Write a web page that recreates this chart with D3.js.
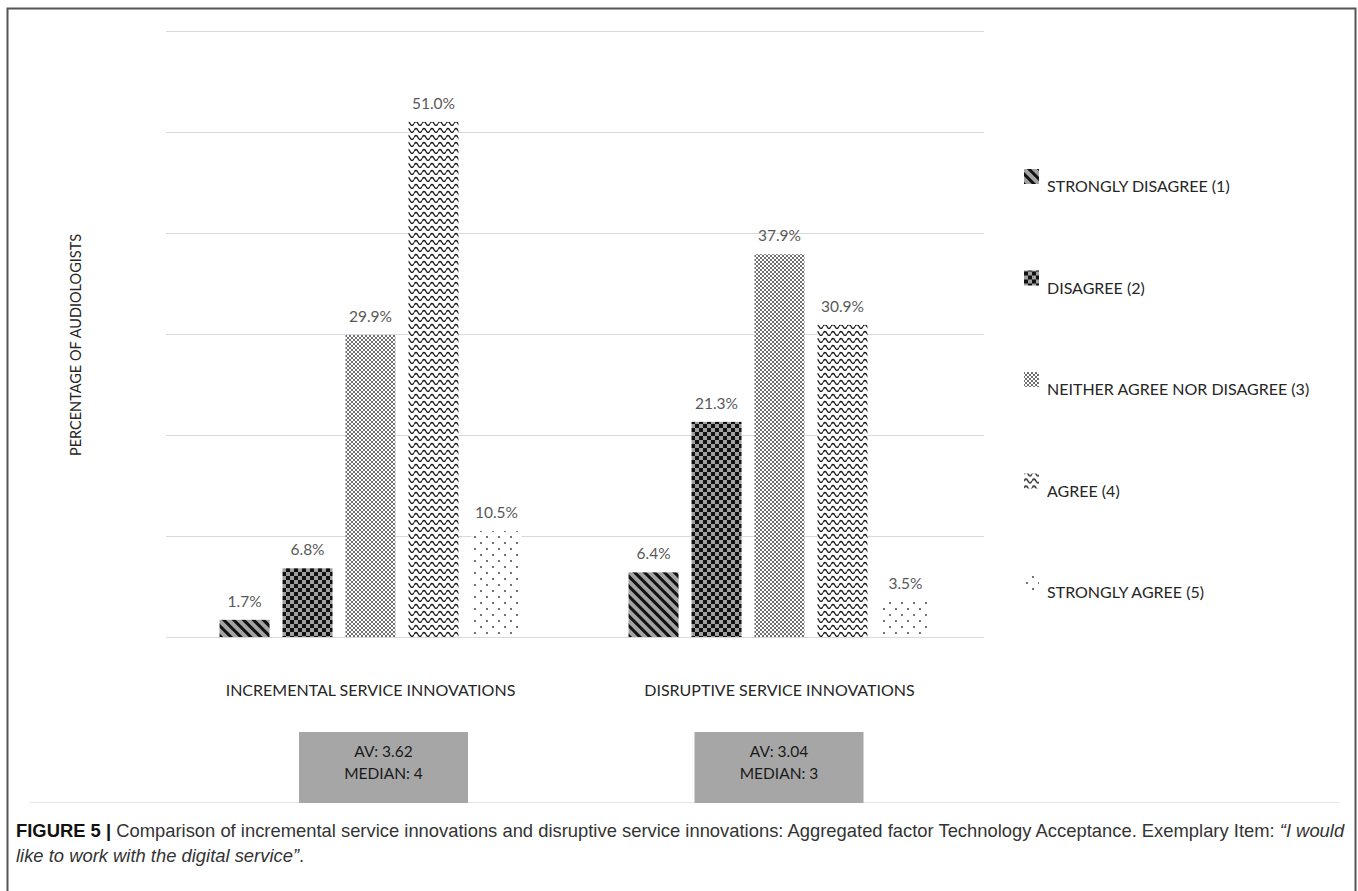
<!DOCTYPE html>
<html>
<head>
<meta charset="utf-8">
<script src="https://cdn.jsdelivr.net/npm/d3@7"></script>
<style>
  html, body { margin: 0; padding: 0; background: #ffffff; }
  svg { display: block; }
</style>
</head>
<body>
<svg id="chart" width="1358" height="891"></svg>
<script>
// Response scale (series) and the two innovation types (categories)
const categories = ["INCREMENTAL SERVICE INNOVATIONS", "DISRUPTIVE SERVICE INNOVATIONS"];
const responses = [
  "STRONGLY DISAGREE (1)",
  "DISAGREE (2)",
  "NEITHER AGREE NOR DISAGREE (3)",
  "AGREE (4)",
  "STRONGLY AGREE (5)"
];
// Percentage of audiologists per response
const incrementalValues = [1.7, 6.8, 29.9, 51.0, 10.5];
const disruptiveValues = [6.4, 21.3, 37.9, 30.9, 3.5];
// Summary statistics shown under each group
const averages = ["3.62", "3.04"];
const medians = ["4", "3"];
// Gridline values (percent)
const yTicks = [0, 10, 20, 30, 40, 50, 60];

const captionBold = "FIGURE 5 |";
const captionLine1 = " Comparison of incremental service innovations and disruptive service innovations: Aggregated factor Technology Acceptance. Exemplary Item: ";
const captionQuote1 = "\u201CI would";
const captionQuote2 = "like to work with the digital service\u201D";

const valuesByCategory = [incrementalValues, disruptiveValues];

const svg = d3.select("#chart");
const FONT = "Lato, 'Open Sans', sans-serif";

// ---- patterns used as bar fills ----
const defs = svg.append("defs");
const patternIds = ["pStripe", "pChecker", "pTrellis", "pWave", "pDots"];

// wide downward diagonal stripes
const p1 = defs.append("pattern").attr("id", "pStripe").attr("patternUnits", "userSpaceOnUse")
  .attr("width", 7).attr("height", 7).attr("patternTransform", "rotate(-45)");
p1.append("rect").attr("width", 7).attr("height", 7).attr("fill", "#a3a3a3");
p1.append("rect").attr("width", 3).attr("height", 7).attr("fill", "#111");

// large checkerboard
const p2 = defs.append("pattern").attr("id", "pChecker").attr("patternUnits", "userSpaceOnUse")
  .attr("width", 8).attr("height", 8);
p2.append("rect").attr("width", 8).attr("height", 8).attr("fill", "#a0a0a0");
p2.append("rect").attr("width", 4).attr("height", 4).attr("fill", "#111");
p2.append("rect").attr("x", 4).attr("y", 4).attr("width", 4).attr("height", 4).attr("fill", "#111");

// small trellis
const p3 = defs.append("pattern").attr("id", "pTrellis").attr("patternUnits", "userSpaceOnUse")
  .attr("width", 4).attr("height", 4);
p3.append("rect").attr("width", 4).attr("height", 4).attr("fill", "#fff");
p3.append("path").attr("d", "M0,0L4,4M4,0L0,4").attr("stroke", "#4a4a4a").attr("stroke-width", 0.8);

// waves
const p4 = defs.append("pattern").attr("id", "pWave").attr("patternUnits", "userSpaceOnUse")
  .attr("width", 8).attr("height", 7);
p4.append("rect").attr("width", 8).attr("height", 7).attr("fill", "#fff");
p4.append("path").attr("d", "M0,4.5 Q2,0.5 4,4.5 T8,4.5").attr("fill", "none")
  .attr("stroke", "#1a1a1a").attr("stroke-width", 1.3);

// sparse dots
const p5 = defs.append("pattern").attr("id", "pDots").attr("patternUnits", "userSpaceOnUse")
  .attr("width", 12).attr("height", 12);
p5.append("rect").attr("width", 12).attr("height", 12).attr("fill", "#fff");
p5.append("circle").attr("cx", 3).attr("cy", 3).attr("r", 0.9).attr("fill", "#333");
p5.append("circle").attr("cx", 9).attr("cy", 9).attr("r", 0.9).attr("fill", "#333");

const fillScale = d3.scaleOrdinal(responses, patternIds.map(id => `url(#${id})`));

// ---- outer frame ----
svg.append("path")
  .attr("d", "M7.5,891V8.5H1355.5V891")
  .attr("fill", "none").attr("stroke", "#555").attr("stroke-width", 2);
// chart area bottom edge
svg.append("line").attr("x1", 30).attr("x2", 1340).attr("y1", 802.5).attr("y2", 802.5)
  .attr("stroke", "#e6e6e6").attr("stroke-width", 1);

// ---- scales ----
const plotLeft = 166, plotRight = 984;
const y = d3.scaleLinear().domain([0, 60]).range([637, 31]);
const x0 = d3.scaleBand().domain(categories).range([plotLeft, plotRight]);
const x1 = d3.scaleBand().domain(responses).range([0, x0.bandwidth()])
  .paddingInner(0.206).paddingOuter(0.85);

// gridlines
const yAxis = d3.axisLeft(y).tickValues(yTicks).tickSize(-(plotRight - plotLeft)).tickFormat("");
const gGrid = svg.append("g").attr("transform", `translate(${plotLeft},0)`).call(yAxis);
gGrid.select(".domain").remove();
gGrid.selectAll(".tick line").attr("stroke", "#d9d9d9").attr("stroke-width", 1);

// ---- bars ----
const groups = svg.append("g").selectAll("g")
  .data(categories)
  .join("g")
  .attr("transform", d => `translate(${x0(d)},0)`);

groups.selectAll("rect")
  .data((c, i) => responses.map((r, j) => ({ r, v: valuesByCategory[i][j] })))
  .join("rect")
  .attr("x", d => x1(d.r))
  .attr("y", d => y(d.v))
  .attr("width", x1.bandwidth())
  .attr("height", d => y(0) - y(d.v))
  .attr("fill", d => fillScale(d.r));

groups.selectAll("text.val")
  .data((c, i) => responses.map((r, j) => ({ r, v: valuesByCategory[i][j] })))
  .join("text")
  .attr("class", "val")
  .attr("x", d => x1(d.r) + x1.bandwidth() / 2)
  .attr("y", d => y(d.v) - 13)
  .attr("text-anchor", "middle")
  .attr("font-family", FONT).attr("font-size", 15.5).attr("fill", "#595959")
  .text(d => d.v.toFixed(1) + "%");

// category labels
svg.append("g").selectAll("text")
  .data(categories)
  .join("text")
  .attr("x", d => x0(d) + x0.bandwidth() / 2)
  .attr("y", 696)
  .attr("text-anchor", "middle")
  .attr("font-family", FONT).attr("font-size", 16).attr("fill", "#262626")
  .text(d => d);

// summary boxes
const boxW = 169, boxH = 71;
const boxCenters = [383.5, 779];
const boxes = svg.append("g").selectAll("g")
  .data(categories)
  .join("g")
  .attr("transform", (d, i) => `translate(${boxCenters[i]},732)`);
boxes.append("rect").attr("x", -boxW / 2).attr("width", boxW).attr("height", boxH).attr("fill", "#a6a6a6");
boxes.append("text").attr("y", 25).attr("text-anchor", "middle")
  .attr("font-family", FONT).attr("font-size", 15.5).attr("fill", "#1a1a1a")
  .text((d, i) => "AV: " + averages[i]);
boxes.append("text").attr("y", 47).attr("text-anchor", "middle")
  .attr("font-family", FONT).attr("font-size", 15.5).attr("fill", "#1a1a1a")
  .text((d, i) => "MEDIAN: " + medians[i]);

// y axis title
svg.append("text")
  .attr("transform", "translate(81,345) rotate(-90)")
  .attr("text-anchor", "middle")
  .attr("font-family", FONT).attr("font-size", 14.5).attr("fill", "#262626")
  .text("PERCENTAGE OF AUDIOLOGISTS");

// legend
const legend = svg.append("g").selectAll("g")
  .data(responses)
  .join("g")
  .attr("transform", (d, i) => `translate(1024,${186 + i * 101.5})`);
legend.append("rect").attr("x", 0).attr("y", -17).attr("width", 15).attr("height", 15)
  .attr("fill", d => fillScale(d));
legend.append("text").attr("x", 23).attr("y", 6)
  .attr("font-family", FONT).attr("font-size", 16).attr("fill", "#262626")
  .text(d => d);

// caption: first line runs the full text width
const CAP_FONT = "'Liberation Sans', Arial, sans-serif";
const capLeft = 16, capRight = 1345, capSize = 18;
const cap1 = svg.append("text")
  .attr("x", capLeft).attr("y", 837)
  .attr("font-family", CAP_FONT).attr("font-size", capSize).attr("fill", "#333");
cap1.append("tspan").attr("font-weight", "bold").attr("fill", "#111").text(captionBold);
cap1.append("tspan").text(captionLine1);
cap1.append("tspan").attr("font-style", "italic").text(captionQuote1);
const natural = cap1.node().getComputedTextLength();
const capScale = (capRight - capLeft) / natural;
cap1.attr("x", null).attr("y", null)
  .attr("transform", `translate(${capLeft},837) scale(${capScale},1)`);

const cap2 = svg.append("text")
  .attr("transform", `translate(${capLeft},862) scale(${capScale},1)`)
  .attr("font-family", CAP_FONT).attr("font-size", capSize).attr("fill", "#333");
cap2.append("tspan").attr("font-style", "italic").text(captionQuote2);
cap2.append("tspan").text(".");
</script>
</body>
</html>
